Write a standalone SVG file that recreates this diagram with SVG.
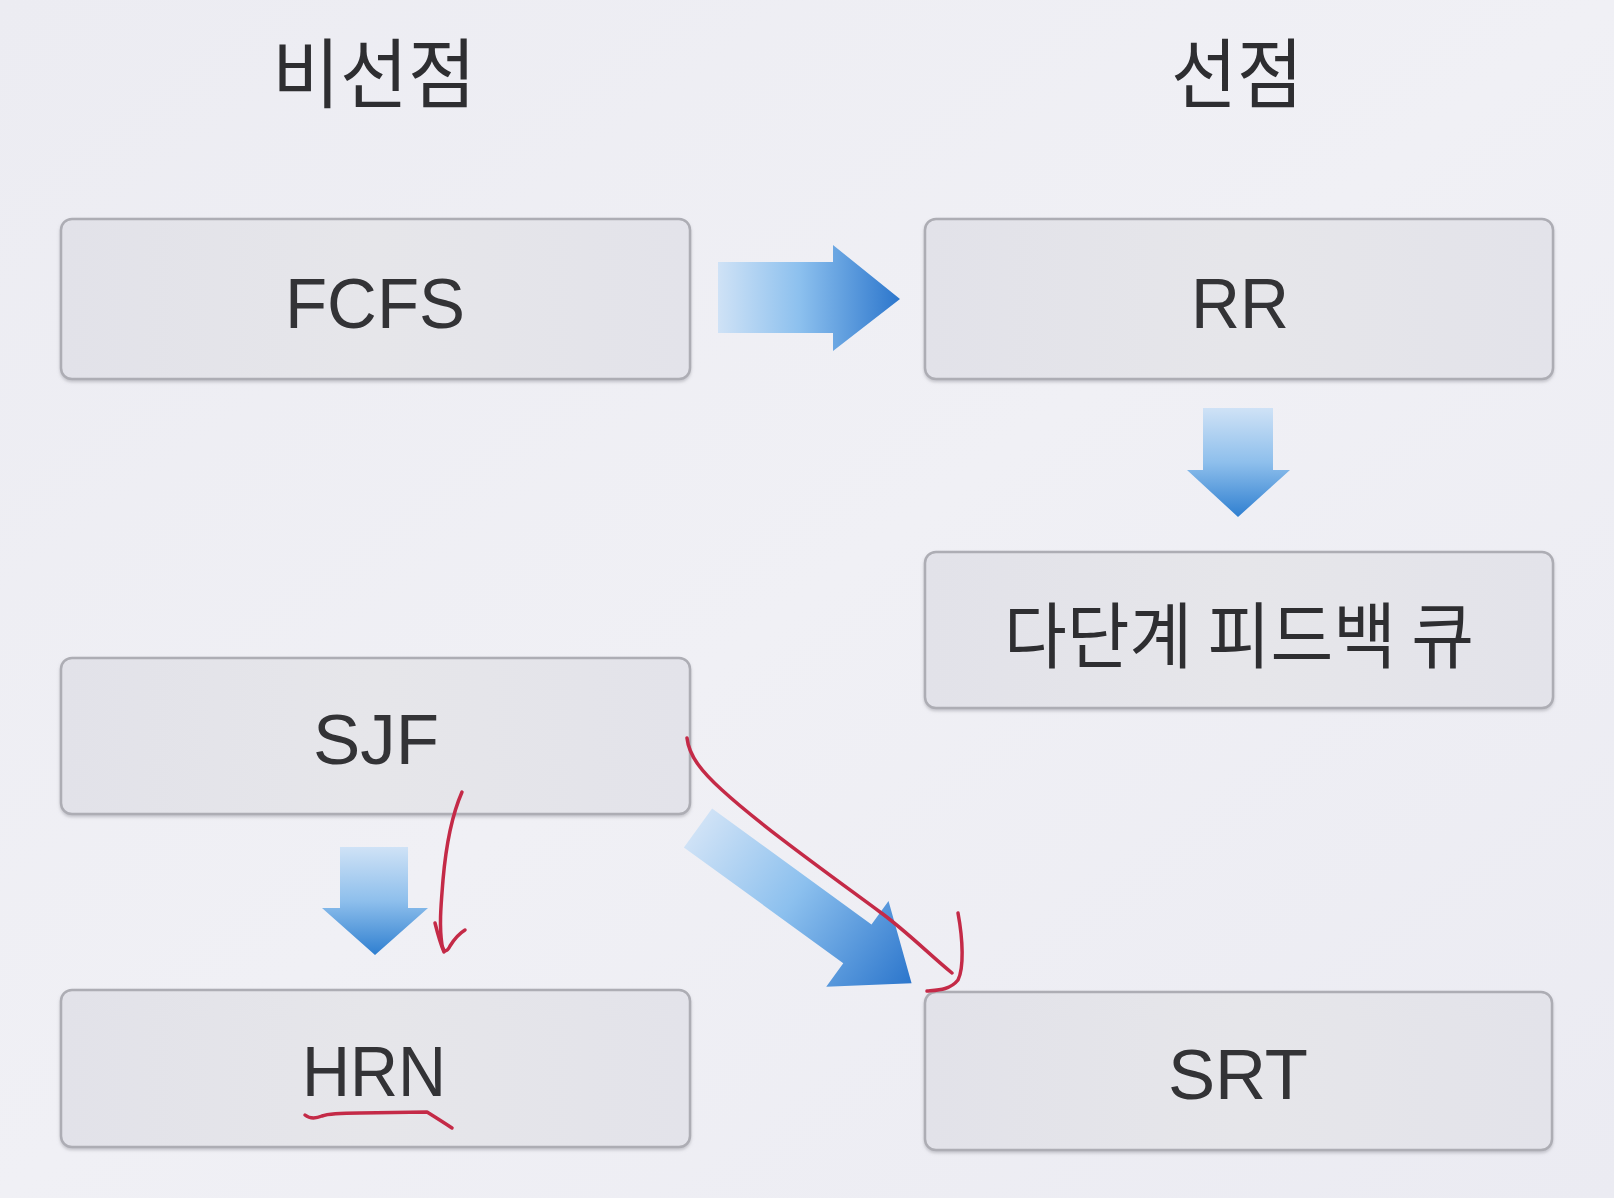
<svg xmlns="http://www.w3.org/2000/svg" width="1614" height="1198" viewBox="0 0 1614 1198">
<defs>
<linearGradient id="bg" x1="0" y1="0" x2="1" y2="1">
<stop offset="0" stop-color="#ececf2"/>
<stop offset="0.5" stop-color="#f0f0f5"/>
<stop offset="1" stop-color="#ebebf2"/>
</linearGradient>
<linearGradient id="boxfill" x1="0" y1="0" x2="1" y2="0">
<stop offset="0" stop-color="#e2e2e9"/>
<stop offset="0.5" stop-color="#e6e6ea"/>
<stop offset="1" stop-color="#e3e3ea"/>
</linearGradient>
<linearGradient id="gh" x1="0" y1="0" x2="1" y2="0">
<stop offset="0" stop-color="#cfe2f6"/>
<stop offset="0.45" stop-color="#8cc0ee"/>
<stop offset="1" stop-color="#2c76cc"/>
</linearGradient>
<linearGradient id="gv" x1="0" y1="0" x2="0" y2="1">
<stop offset="0" stop-color="#cfe2f6"/>
<stop offset="0.5" stop-color="#8ebfec"/>
<stop offset="1" stop-color="#2f7fd0"/>
</linearGradient>
<filter id="sh" x="-5%" y="-5%" width="110%" height="115%">
<feDropShadow dx="0" dy="2" stdDeviation="1.5" flood-color="#9a9aa2" flood-opacity="0.5"/>
</filter>
</defs>
<style>
.box{fill:url(#boxfill);stroke:#adadb4;stroke-width:2.5;filter:url(#sh)}
.lbl{font-family:"Liberation Sans","Noto Sans",Arial,sans-serif;font-size:71px;fill:#333336;text-anchor:middle}
.ko{font-family:"Noto Sans CJK KR","Noto Sans",sans-serif;fill:#2e2e31;text-anchor:middle}
.title{font-size:76px;font-weight:400}
.kol{font-size:72px;font-weight:400}
.ink{fill:none;stroke:#c42a47;stroke-width:3.5;stroke-linecap:round;stroke-linejoin:round}
</style>
<rect x="0" y="0" width="1614" height="1198" fill="url(#bg)"/>
<g id="title-nonpreemptive"><text class="ko title" x="374" y="102" textLength="204" lengthAdjust="spacingAndGlyphs">비선점</text></g>
<g id="title-preemptive"><text class="ko title" x="1237" y="102" textLength="132" lengthAdjust="spacingAndGlyphs">선점</text></g>
<g id="node-fcfs"><rect class="box" x="61" y="219" width="629" height="160" rx="11"/><text class="lbl" x="375" y="328" textLength="180" lengthAdjust="spacingAndGlyphs">FCFS</text></g>
<g id="node-rr"><rect class="box" x="925" y="219" width="628" height="160" rx="11"/><text class="lbl" x="1240" y="328" textLength="98" lengthAdjust="spacingAndGlyphs">RR</text></g>
<g id="node-mlfq"><rect class="box" x="925" y="552" width="628" height="156" rx="11"/><text class="ko kol" x="1239" y="662" textLength="470" lengthAdjust="spacingAndGlyphs">다단계 피드백 큐</text></g>
<g id="node-sjf"><rect class="box" x="61" y="658" width="629" height="156" rx="11"/><text class="lbl" x="376" y="764" textLength="126" lengthAdjust="spacingAndGlyphs">SJF</text></g>
<g id="node-hrn"><rect class="box" x="61" y="990" width="629" height="157" rx="11"/><text class="lbl" x="374" y="1096" textLength="144" lengthAdjust="spacingAndGlyphs">HRN</text></g>
<g id="node-srt"><rect class="box" x="925" y="992" width="627" height="158" rx="11"/><text class="lbl" x="1238" y="1099" textLength="140" lengthAdjust="spacingAndGlyphs">SRT</text></g>
<g id="connectors">
<polygon fill="url(#gh)" points="718,262 833,262 833,245 900,299 833,351 833,333 718,333"/>
<polygon fill="url(#gv)" points="1203,408 1273,408 1273,470 1290,470 1238,517 1187,470 1203,470"/>
<polygon fill="url(#gv)" points="340,847 408,847 408,908 428,908 375,955 322,908 340,908"/>
<g transform="translate(698,828) rotate(36)"><polygon fill="url(#gh)" points="0,-24 197,-24 197,-53 264,0 197,53 197,24 0,24"/></g>
</g>
<g id="annotations">
<path class="ink" d="M462,792 C452,815 446,845 443,880 C441,905 439,925 442,945 C444,953 447,952 450,946 C455,938 460,933 465,930"/>
<path class="ink" d="M435,923 C438,935 441,945 444,952"/>
<path class="ink" d="M687,738 C689,756 702,772 722,790 C760,825 830,875 880,912 C905,930 930,955 952,973"/>
<path class="ink" d="M958,913 C963,940 964,968 958,980 C950,990 938,990 927,991"/>
<path class="ink" d="M305,1115 C310,1119 315,1119 322,1116 C330,1113 345,1113 360,1113 L427,1112 C435,1117 443,1122 452,1128"/>
</g>
</svg>
